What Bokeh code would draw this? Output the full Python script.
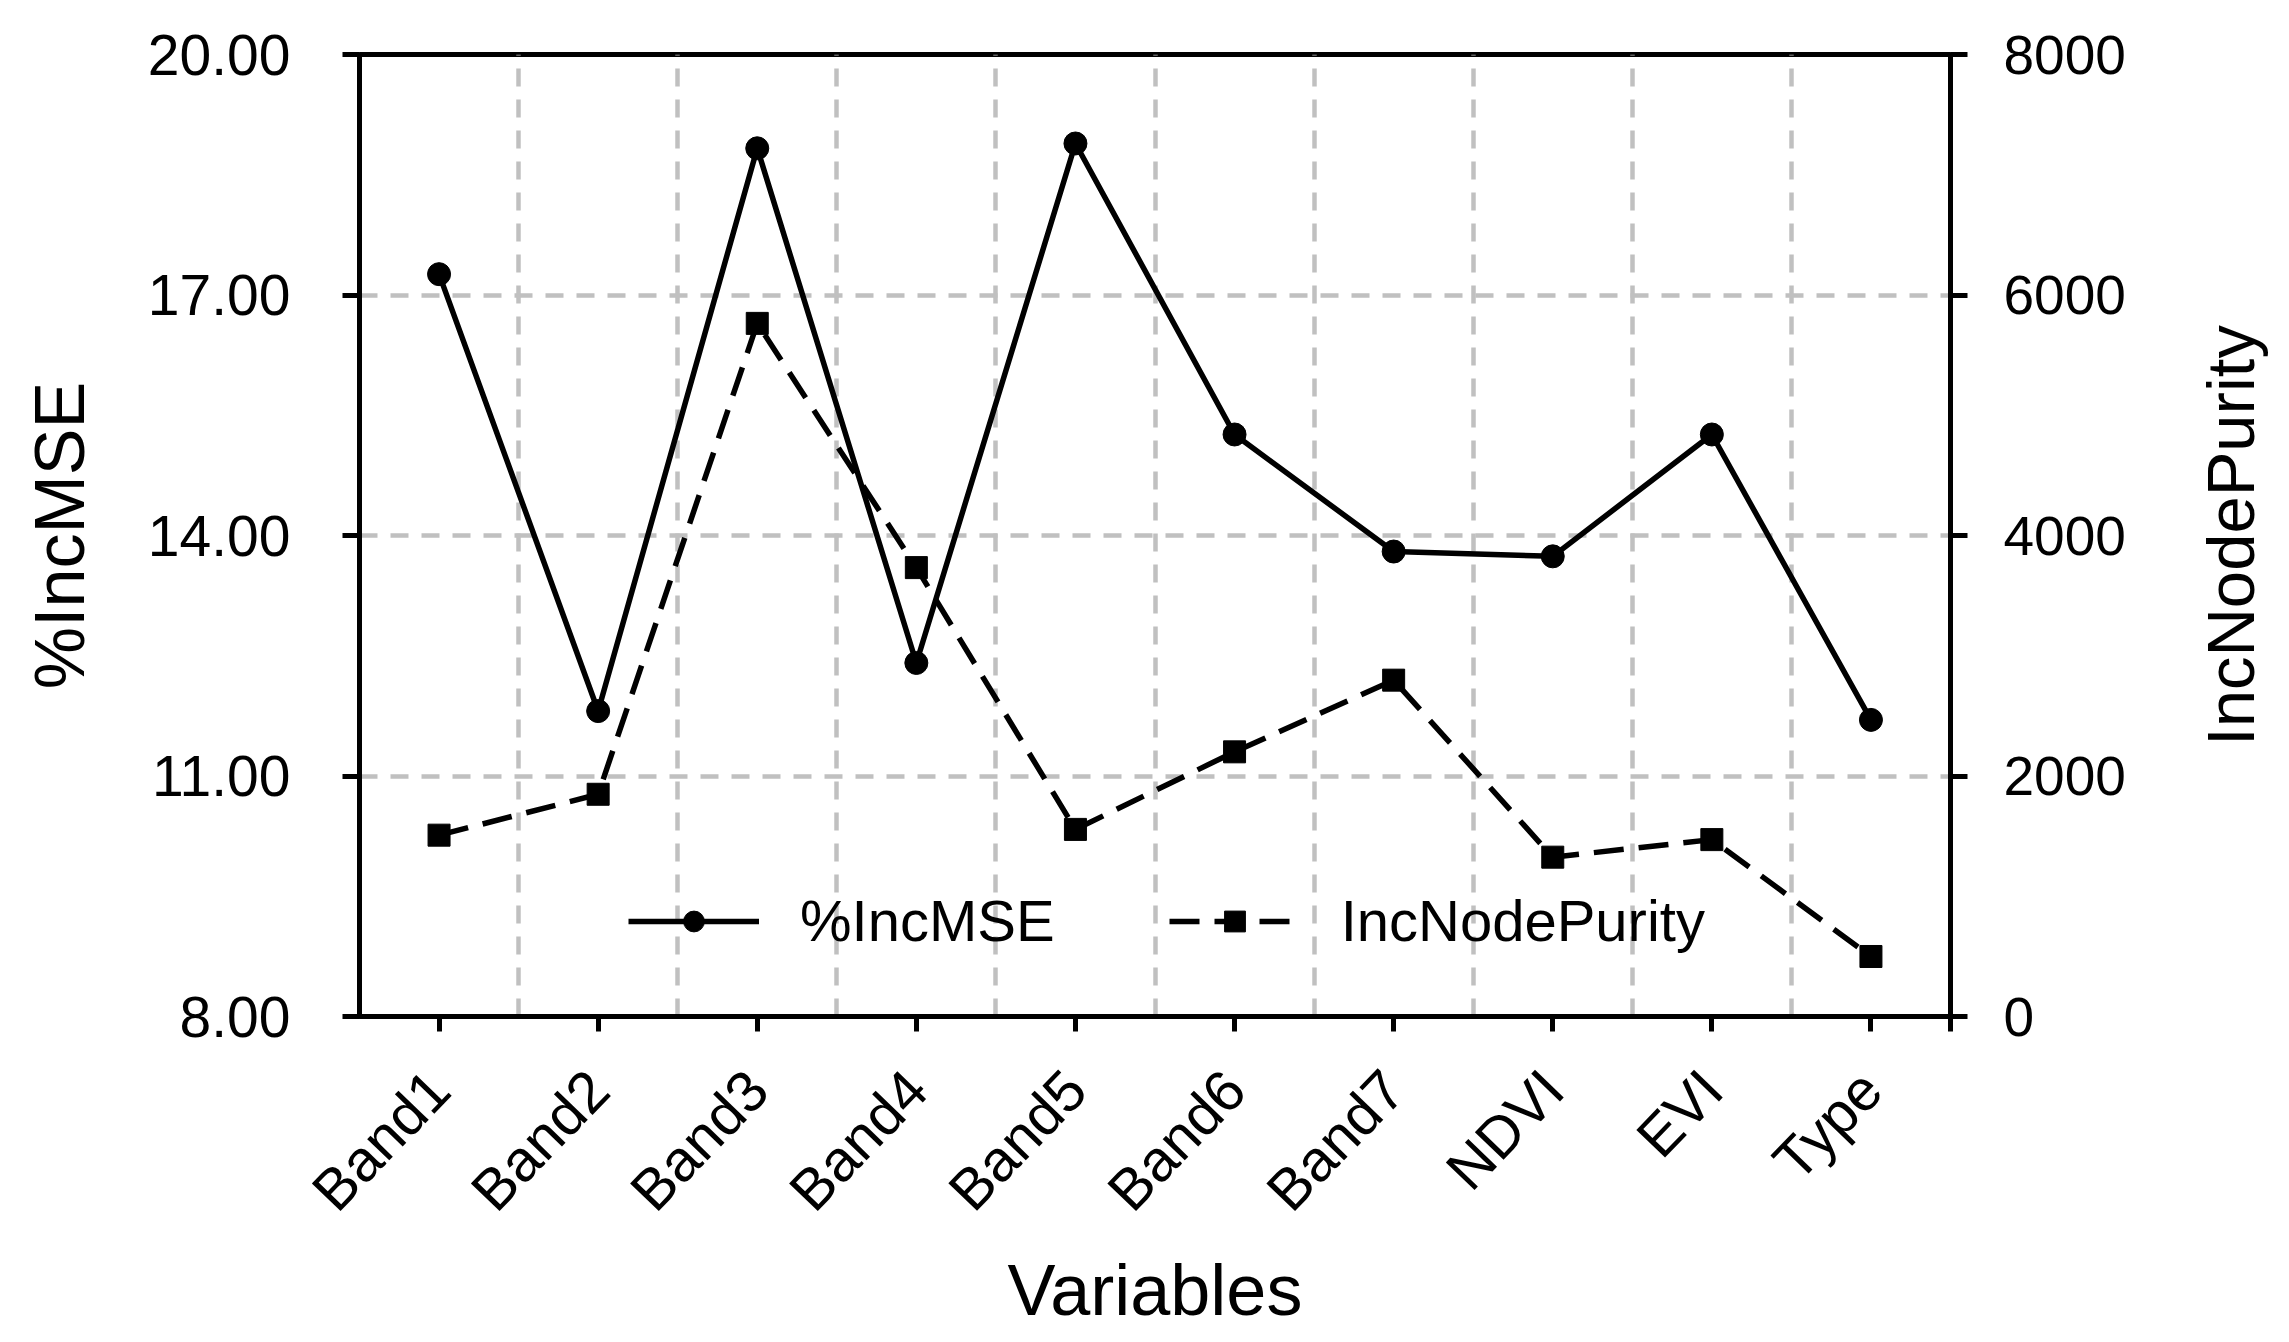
import math
from bokeh.plotting import figure
from bokeh.layouts import row
from bokeh.models import (Range1d, LinearAxis, FixedTicker, PrintfTickFormatter,
                          Legend, LegendItem)
from bokeh.embed import file_html
from bokeh.resources import INLINE

# ---- data ----
categories = ["Band1", "Band2", "Band3", "Band4", "Band5", "Band6", "Band7", "NDVI", "EVI", "Type"]
inc_mse = [17.26, 11.81, 18.83, 12.41, 18.89, 15.26, 13.80, 13.74, 15.26, 11.70]
inc_node_purity = [1508, 1848, 5764, 3733, 1556, 2201, 2797, 1325, 1471, 499]
left_ticks = [8, 11, 14, 17, 20]
right_ticks = [0, 2000, 4000, 6000, 8000]

x = list(range(1, len(categories) + 1))
FONT = "Liberation Sans"
FW, FH = 1591, 962
TOP, LEFT, RIGHT, BOTTOM = 54, 359, 200, 308

p = figure(frame_width=FW, frame_height=FH,
           x_range=Range1d(0.5, len(categories) + 0.5),
           y_range=Range1d(left_ticks[0], left_ticks[-1]),
           output_backend="svg", toolbar_location=None,
           min_border_left=LEFT, min_border_top=TOP,
           min_border_right=RIGHT, min_border_bottom=BOTTOM)
p.extra_y_ranges = {"right": Range1d(right_ticks[0], right_ticks[-1])}

p.outline_line_color = "black"
p.outline_line_width = 5
p.outline_line_alpha = 1.0

# grids
p.xgrid.ticker = FixedTicker(ticks=[i + 0.5 for i in range(1, len(categories))])
p.ygrid.ticker = FixedTicker(ticks=left_ticks[1:-1])
for g in (p.xgrid, p.ygrid):
    g.grid_line_color = "#c0c0c0"
    g.grid_line_width = 4.5
    g.grid_line_dash = "18 13"

def style_axis(ax, tick_size="57px"):
    ax.axis_line_color = "black"
    ax.axis_line_width = 5
    ax.major_tick_line_color = "black"
    ax.major_tick_line_width = 5
    ax.major_tick_in = 0
    ax.major_tick_out = 17
    ax.minor_tick_line_color = None
    ax.major_label_text_font = FONT
    ax.major_label_text_font_size = tick_size
    ax.major_label_text_color = "black"
    ax.axis_label_text_font = FONT
    ax.axis_label_text_font_style = "normal"
    ax.axis_label_text_font_size = "70px"
    ax.axis_label_text_color = "black"

# x axis
xa = p.xaxis[0]
style_axis(xa, "58px")
xa.ticker = FixedTicker(ticks=x + [len(categories) + 0.5])
overrides = {i: c for i, c in zip(x, categories)}
overrides[len(categories) + 0.5] = ""
xa.major_label_overrides = overrides
xa.major_label_orientation = math.radians(46)
xa.major_tick_out = 15
xa.major_label_standoff = 48
xa.axis_label = "Variables"
xa.axis_label_standoff = 2
xa.axis_label_text_font_size = "72px"

# left axis
ya = p.yaxis[0]
style_axis(ya)
ya.ticker = FixedTicker(ticks=left_ticks)
ya.formatter = PrintfTickFormatter(format="%.2f")
ya.major_label_standoff = 52
ya.axis_label = "%IncMSE"
ya.axis_label_standoff = 46

# right axis
ra = LinearAxis(y_range_name="right")
style_axis(ra, "55px")
ra.ticker = FixedTicker(ticks=right_ticks)
ra.formatter = PrintfTickFormatter(format="%d")
ra.major_label_standoff = 36
p.add_layout(ra, "right")

# series
l1 = p.line(x, inc_mse, line_color="black", line_width=5.5)
s1 = p.scatter(x, inc_mse, marker="circle", size=23, fill_color="black", line_color="black")
l2 = p.line(x, inc_node_purity, line_color="black", line_width=5.5, line_dash="30 15",
            y_range_name="right")
s2 = p.scatter(x, inc_node_purity, marker="square", size=22, fill_color="black",
               line_color="black", y_range_name="right")

legend = Legend(items=[LegendItem(label="%IncMSE", renderers=[l1, s1]),
                       LegendItem(label="IncNodePurity", renderers=[l2, s2])],
                location=(269, 62), orientation="horizontal",
                glyph_width=131, glyph_height=52, label_standoff=41, spacing=114,
                padding=0, margin=0, border_line_alpha=0, background_fill_alpha=0,
                label_text_font=FONT, label_text_font_size="58px",
                label_text_color="black")
p.add_layout(legend)

# narrow strip to the right: its left-axis title (bottom-to-top, centred on the
# same frame height) serves as the right-axis title of the main chart
p2 = figure(frame_width=1, frame_height=FH,
            x_range=Range1d(0, 1), y_range=Range1d(right_ticks[0], right_ticks[-1]),
            output_backend="svg", toolbar_location=None,
            min_border_left=117, min_border_right=0,
            min_border_top=TOP, min_border_bottom=BOTTOM)
p2.xaxis.visible = False
p2.xgrid.visible = False
p2.ygrid.visible = False
p2.outline_line_color = None
ax2 = p2.yaxis[0]
ax2.ticker = FixedTicker(ticks=[])
ax2.axis_line_color = None
ax2.major_tick_line_color = None
ax2.minor_tick_line_color = None
ax2.major_tick_out = 0
ax2.major_tick_in = 0
ax2.major_label_standoff = 0
ax2.axis_label = "IncNodePurity"
ax2.axis_label_standoff = 0
ax2.axis_label_text_font = FONT
ax2.axis_label_text_font_style = "normal"
ax2.axis_label_text_font_size = "67px"
ax2.axis_label_text_color = "black"

layout = row(p, p2, spacing=0)
open("out.html", "w").write(file_html(layout, INLINE))
